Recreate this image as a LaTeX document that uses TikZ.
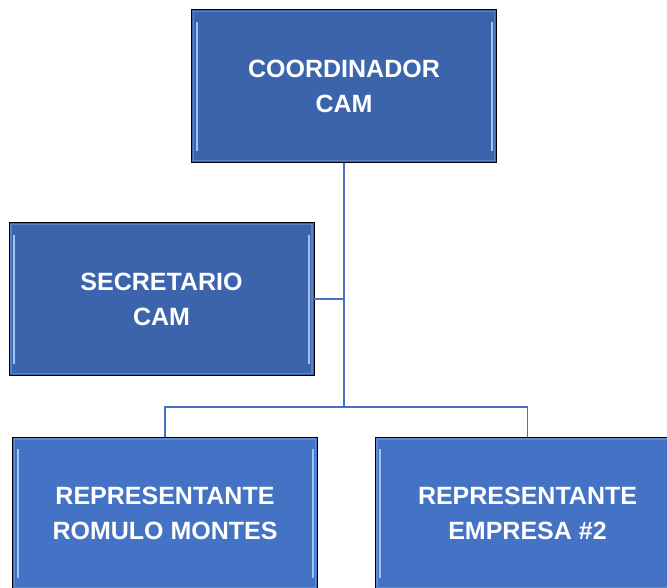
\documentclass[tikz,border=0pt]{standalone}
\usepackage{fontspec}
\setmainfont{Liberation Sans}
\usepackage{tikz}
\definecolor{boxdark}{RGB}{59,100,173}
\definecolor{boxlight}{RGB}{68,114,196}
\definecolor{linkblue}{RGB}{68,114,196}
\definecolor{shine}{RGB}{160,195,245}
\tikzstyle{unit} = [draw=black, line width=0.8pt, minimum width=305pt, minimum height=153pt,
	text=white, align=center, font=\bfseries\fontsize{25}{35}\selectfont,
	path picture={
		\draw[shine, line width=2pt] ([xshift=5pt,yshift=-12pt]path picture bounding box.north west) -- ([xshift=5pt,yshift=12pt]path picture bounding box.south west);
		\draw[shine, line width=2pt] ([xshift=-5pt,yshift=-12pt]path picture bounding box.north east) -- ([xshift=-5pt,yshift=12pt]path picture bounding box.south east);
		\draw[shine, opacity=0.3, line width=1.2pt] ([xshift=2pt,yshift=-2pt]path picture bounding box.north west) rectangle ([xshift=-2pt,yshift=2pt]path picture bounding box.south east);
	}]
\tikzstyle{link} = [draw=linkblue, line width=1.6pt]

\begin{document}
\begin{tikzpicture}[x=1pt,y=-1pt]
	\useasboundingbox (0,0) rectangle (667,587);
	\node[unit, fill=boxdark] (coord) at (344,86) {COORDINADOR\\CAM};
	\node[unit, fill=boxdark] (secr) at (161.5,299) {SECRETARIO\\CAM};
	\node[unit, fill=boxlight] (rep1) at (165,513.5) {REPRESENTANTE\\ROMULO MONTES};
	\node[unit, fill=boxlight] (rep2) at (527.5,513.5) {REPRESENTANTE\\EMPRESA \#2};
	\coordinate (bus) at (344,407);
	\draw[link] (coord.south) -- (bus);
	\draw[link] (secr.east) -- (secr.east -| coord.south);
	\draw[link] (rep1.north) |- (bus) -| (rep2.north);
\end{tikzpicture}
\end{document}
